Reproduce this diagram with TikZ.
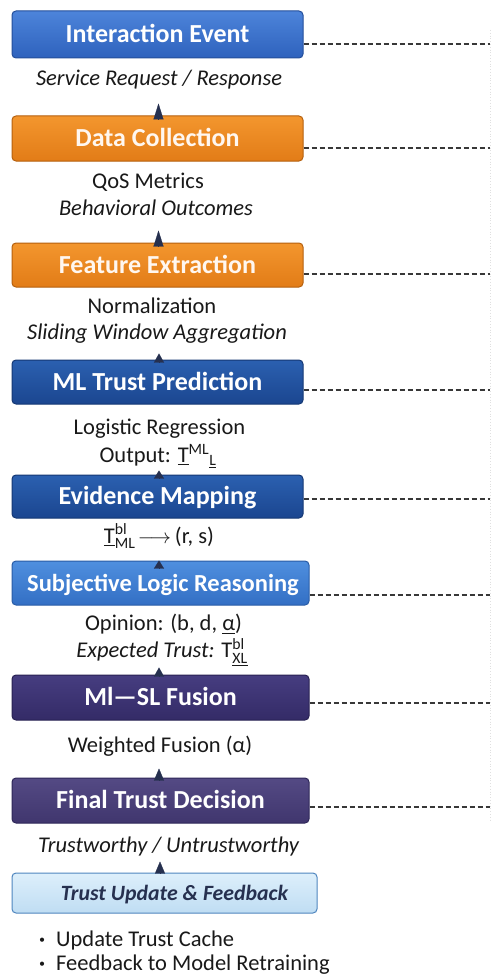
\documentclass[tikz,border=0pt]{standalone}
\usepackage{amsmath}
\usepackage{fontspec}
\setmainfont{Carlito}
\usetikzlibrary{arrows.meta}
\definecolor{navy}{HTML}{26304F}
\definecolor{bAt}{HTML}{4D84DA}\definecolor{bAb}{HTML}{2E62BD}\definecolor{bAd}{HTML}{234E9A}
\definecolor{oRt}{HTML}{F3962E}\definecolor{oRb}{HTML}{E27C17}\definecolor{oRd}{HTML}{B5600E}
\definecolor{dBt}{HTML}{2B60B0}\definecolor{dBb}{HTML}{1B4690}\definecolor{dBd}{HTML}{153874}
\definecolor{lBt}{HTML}{4F8FDF}\definecolor{lBb}{HTML}{336FC4}\definecolor{lBd}{HTML}{295CA6}
\definecolor{pAt}{HTML}{463D80}\definecolor{pAb}{HTML}{342B67}\definecolor{pAd}{HTML}{282152}
\definecolor{pBt}{HTML}{544A84}\definecolor{pBb}{HTML}{40366E}\definecolor{pBd}{HTML}{2E2758}
\definecolor{cBt}{HTML}{DDEFFB}\definecolor{cBb}{HTML}{BFDDF3}\definecolor{cBd}{HTML}{4F86BF}
\begin{document}
\begin{tikzpicture}[x=1pt,y=-1pt,
  box/.style={rounded corners=4pt, minimum width=291pt, inner sep=0pt,
    text height=16.5pt, text depth=0pt, font=\fontsize{26}{30}\selectfont\bfseries,
    text=white, line width=1pt},
  lbl/.style={font=\fontsize{22.5}{26}\selectfont, inner sep=0pt, anchor=base, text=black!90},
  arr/.style={-{Triangle[width=10pt,length=#1]}, draw=navy, fill=navy, line width=0.2pt},
  dline/.style={dash pattern=on 5pt off 3pt, line width=1.4pt, draw=black!78},
  bul/.style={lbl, anchor=base west}]
\useasboundingbox (0,0) rectangle (494,979);
\fill[white] (0,0) rectangle (494,979);
\draw[black!12, dotted, line width=0.8pt] (490,30) -- (490,820);

% boxes
\node[box, minimum height=47pt, top color=bAt, bottom color=bAb, draw=bAd] (b1) at (157.5,34.5) {Interaction Event};
\node[box, minimum height=45pt, top color=oRt, bottom color=oRb, draw=oRd, text=white!94!orange] (b2) at (157.5,138.5) {Data Collection};
\node[box, minimum height=44pt, top color=oRt, bottom color=oRb, draw=oRd, text=white!94!orange] (b3) at (157.5,265) {Feature Extraction};
\node[box, minimum height=44pt, top color=dBt, bottom color=dBb, draw=dBd] (b4) at (157.5,382) {ML Trust Prediction};
\node[box, minimum height=43pt, top color=dBt, bottom color=dBb, draw=dBd] (b5) at (157.5,496.5) {Evidence Mapping};
\node[box, minimum width=297pt, minimum height=44pt, top color=lBt, bottom color=lBb, draw=lBd, font=\fontsize{24.5}{30}\selectfont\bfseries] (b6) at (160.5,583) {\hspace{5pt}Subjective Logic Reasoning};
\node[box, minimum width=297pt, minimum height=45pt, top color=pAt, bottom color=pAb, draw=pAd] (b7) at (160.5,697.5) {Ml—SL Fusion};
\node[box, minimum width=297pt, minimum height=45pt, top color=pBt, bottom color=pBb, draw=pBd] (b8) at (160.5,800.5) {Final Trust Decision};
\node[box, minimum width=305pt, minimum height=40pt, top color=cBt, bottom color=cBb, draw=cBd, text=navy, text height=14pt, font=\fontsize{21.8}{26}\selectfont\bfseries\itshape] (b9) at (164.5,893) {\hspace{20pt}Trust Update \& Feedback};

% labels
\node[lbl] (l1) at (159,86) {\itshape Service Request / Response};
\node[lbl] (l2a) at (148,188) {QoS Metrics};
\node[lbl] (l2b) at (156,215) {\itshape Behavioral Outcomes};
\node[lbl] (l3a) at (152,313) {Normalization};
\node[lbl] (l3b) at (157,339) {\itshape Sliding Window Aggregation};
\node[lbl] (l4a) at (159.5,434) {Logistic Regression};
\node[lbl] (l4b) at (158,462) {Output: \underline{T}\textsuperscript{ML}\textsubscript{\underline{L}}};
\node[lbl] (l5) at (159,543) {$\underline{\text{T}}^{\text{bl}}_{\text{ML}}\!\longrightarrow$\,(r, s)};
\node[lbl] (l6a) at (163.5,630) {Opinion: (b, d, \underline{α})};
\node[lbl] (l6b) at (162,657) {\itshape Expected Trust: \upshape T$^{\text{bl}}_{\underline{\text{XL}}}$};
\node[lbl] (l7) at (160,752) {Weighted Fusion (α)};
\node[lbl] (l8) at (168.5,852) {\itshape Trustworthy / Untrustworthy};
\node[bul] (p1) at (39,946) {{\bfseries ·}\hspace{11pt}Update Trust Cache};
\node[bul] (p2) at (39,970) {{\bfseries ·}\hspace{11pt}Feedback to Model Retraining};

% upward arrows
\draw[arr=16pt] ([xshift=1pt,yshift=-4pt]b2.north) -- ++(0,-16);
\draw[arr=16pt] ([xshift=1pt,yshift=-4pt]b3.north) -- ++(0,-16);
\draw[arr=9pt]  ([xshift=1.5pt,yshift=-3pt]b4.north) -- ++(0,-9);
\draw[arr=8pt]  ([xshift=1.5pt,yshift=-4pt]b5.north) -- ++(0,-8);
\draw[arr=8pt]  ([xshift=-1.5pt,yshift=-8pt]b6.north) -- ++(0,-8);
\draw[arr=9pt]  ([xshift=-1.5pt,yshift=-2pt]b7.north) -- ++(0,-9);
\draw[arr=12pt] ([xshift=-1.5pt,yshift=-3pt]b8.north) -- ++(0,-12);
\draw[arr=12pt] ([xshift=-4.5pt,yshift=-1pt]b9.north) -- ++(0,-12);

% dashed leaders
\coordinate (r1) at (490,44);  \draw[dline] (b1.east |- r1) -- (r1);
\coordinate (r2) at (490,148); \draw[dline] (b2.east |- r2) -- (r2);
\coordinate (r3) at (490,274); \draw[dline] (b3.east |- r3) -- (r3);
\coordinate (r4) at (490,390); \draw[dline] (b4.east |- r4) -- (r4);
\coordinate (r5) at (490,499); \draw[dline] (b5.east |- r5) -- (r5);
\coordinate (r6) at (490,595); \draw[dline] (b6.east |- r6) -- (r6);
\coordinate (r7) at (490,703); \draw[dline] (b7.east |- r7) -- (r7);
\coordinate (r8) at (490,807); \draw[dline] (b8.east |- r8) -- (r8);
\end{tikzpicture}
\end{document}
